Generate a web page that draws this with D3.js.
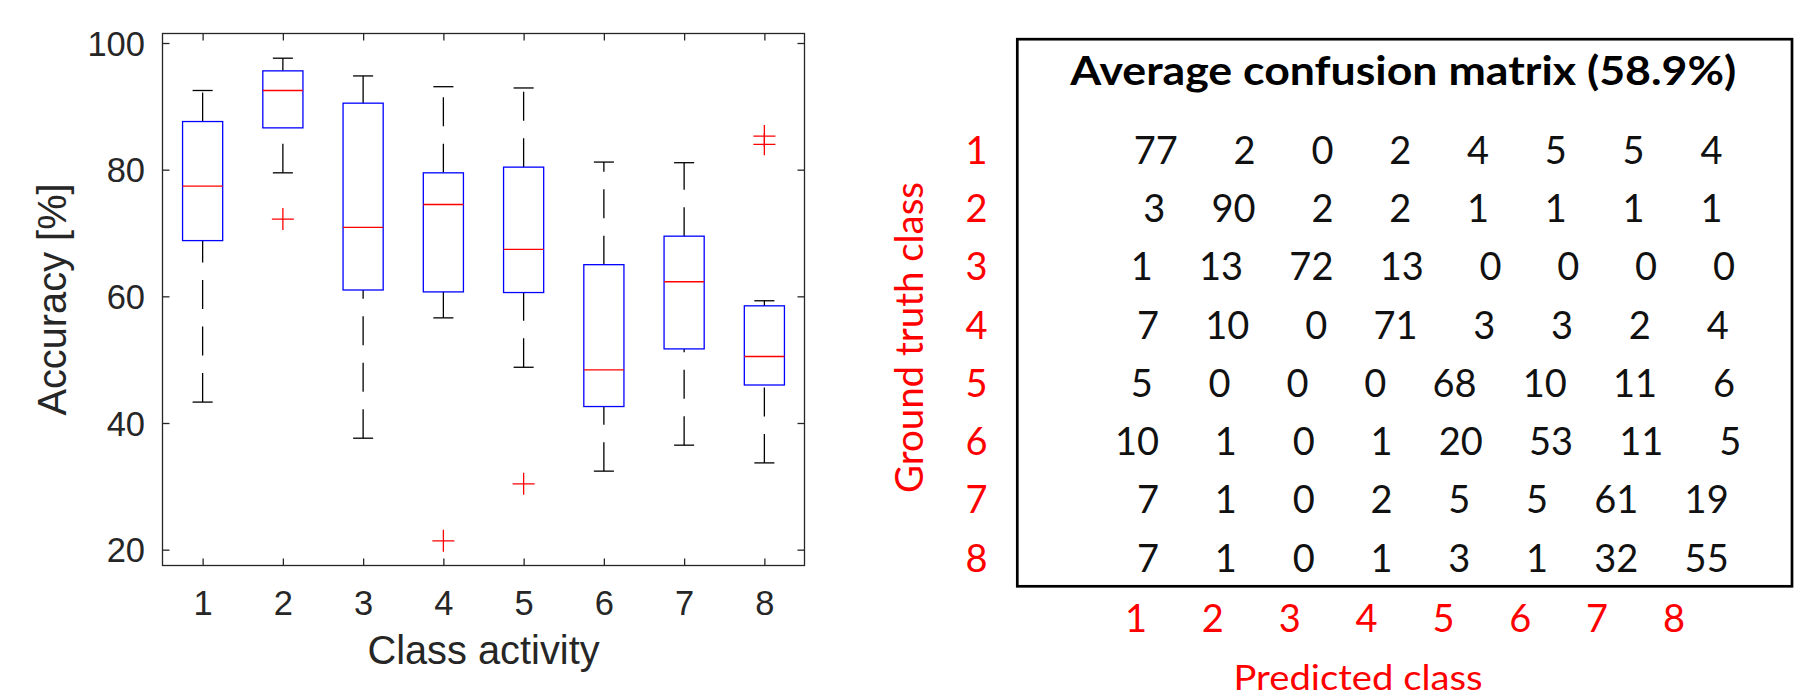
<!DOCTYPE html>
<html>
<head>
<meta charset="utf-8">
<script src="https://d3js.org/d3.v7.min.js"></script>
<style>
body { margin: 0; background: #fff; }
svg { display: block; }
</style>
</head>
<body>
<script>
// box plot values (accuracy in %)
var classes = [1, 2, 3, 4, 5, 6, 7, 8];
var whiskerHigh = [92.5, 97.6, 94.8, 93.1, 92.9, 81.2, 81.1, 59.3];
var q3 = [87.6, 95.6, 90.5, 79.5, 80.4, 65.0, 69.5, 58.5];
var medians = [77.4, 92.5, 70.9, 74.5, 67.4, 48.4, 62.3, 50.5];
var q1 = [68.8, 86.6, 61.0, 60.7, 60.6, 42.6, 51.7, 46.0];
var whiskerLow = [43.3, 79.5, 37.6, 56.6, 48.8, 32.4, 36.5, 33.7];
var outliers = [[], [72.2], [], [21.4], [30.4], [], [], [85.3, 84.0]];
var yTicks = [20, 40, 60, 80, 100];

// confusion matrix (rows = ground truth, columns = predicted)
var matrixTitle = "Average confusion matrix (58.9%)";
var confusion = [
    [77, 2, 0, 2, 4, 5, 5, 4],
    [3, 90, 2, 2, 1, 1, 1, 1],
    [1, 13, 72, 13, 0, 0, 0, 0],
    [7, 10, 0, 71, 3, 3, 2, 4],
    [5, 0, 0, 0, 68, 10, 11, 6],
    [10, 1, 0, 1, 20, 53, 11, 5],
    [7, 1, 0, 2, 5, 5, 61, 19],
    [7, 1, 0, 1, 3, 1, 32, 55]
];

var svg = d3.select("body").append("svg")
    .attr("width", 1801)
    .attr("height", 700);

drawBoxes();
drawMatrix();

function drawBoxes()
{
    var left = 162.5, right = 804.5, top = 33.5, bottom = 565.5;
    var ink = "#262626";

    var x = d3.scaleLinear().domain([0.5, 8.5]).range([left, right]);
    var y = d3.scaleLinear().domain([17.5, 101.5]).range([bottom, top]);

    var g = svg.append("g");

    // ticks point inwards on all four sides, like matlab
    function styleAxis(sel) {
        sel.select(".domain").remove();
        sel.selectAll("line").attr("stroke", ink).attr("stroke-width", 1.3);
        sel.selectAll("text")
            .attr("fill", ink)
            .attr("font-family", "'Liberation Sans', Arial, sans-serif")
            .attr("font-size", 34.5);
    }

    g.append("g")
        .attr("transform", "translate(0," + bottom + ")")
        .call(d3.axisBottom(x).tickValues(classes).tickSize(-7).tickPadding(25))
        .call(styleAxis);
    g.append("g")
        .attr("transform", "translate(0," + top + ")")
        .call(d3.axisTop(x).tickValues(classes).tickSize(-7).tickFormat(""))
        .call(styleAxis);
    g.append("g")
        .attr("transform", "translate(" + left + ",0)")
        .call(d3.axisLeft(y).tickValues(yTicks).tickSize(-7).tickPadding(17.5))
        .call(styleAxis)
        .selectAll("text").attr("dy", "0.35em");
    g.append("g")
        .attr("transform", "translate(" + right + ",0)")
        .call(d3.axisRight(y).tickValues(yTicks).tickSize(-7).tickFormat(""))
        .call(styleAxis);

    g.append("rect")
        .attr("x", left).attr("y", top)
        .attr("width", right - left).attr("height", bottom - top)
        .attr("fill", "none")
        .attr("stroke", ink)
        .attr("stroke-width", 1.3);

    g.append("text")
        .attr("x", (left + right) / 2)
        .attr("y", 664)
        .attr("text-anchor", "middle")
        .attr("fill", ink)
        .attr("font-family", "'Liberation Sans', Arial, sans-serif")
        .attr("font-size", 39.8)
        .text("Class activity");

    g.append("text")
        .attr("transform", "translate(66," + (top + bottom) / 2 + ")rotate(-90)")
        .attr("text-anchor", "middle")
        .attr("fill", ink)
        .attr("font-family", "'Liberation Sans', Arial, sans-serif")
        .attr("font-size", 39.8)
        .text("Accuracy [%]");

    var boxes = g.selectAll(".box")
        .data(classes)
        .join("g")
        .attr("class", "box");

    // whiskers are drawn from the low end up, so the dash pattern starts there
    boxes.append("line")
        .attr("x1", d => x(d)).attr("x2", d => x(d))
        .attr("y1", (d, i) => y(whiskerLow[i]))
        .attr("y2", (d, i) => y(q1[i]));
    boxes.append("line")
        .attr("x1", d => x(d)).attr("x2", d => x(d))
        .attr("y1", (d, i) => y(q3[i]))
        .attr("y2", (d, i) => y(whiskerHigh[i]));
    boxes.selectAll("line")
        .attr("stroke", "#000")
        .attr("stroke-width", 1.3)
        .attr("stroke-dasharray", "29,17.5");

    [whiskerLow, whiskerHigh].forEach(function(vals) {
        boxes.append("line")
            .attr("x1", d => x(d - 0.125)).attr("x2", d => x(d + 0.125))
            .attr("y1", (d, i) => y(vals[i]))
            .attr("y2", (d, i) => y(vals[i]))
            .attr("stroke", "#000")
            .attr("stroke-width", 1.3);
    });

    boxes.append("rect")
        .attr("x", d => x(d - 0.25))
        .attr("width", d => x(d + 0.25) - x(d - 0.25))
        .attr("y", (d, i) => y(q3[i]))
        .attr("height", (d, i) => y(q1[i]) - y(q3[i]))
        .attr("fill", "none")
        .attr("stroke", "#0000ff")
        .attr("stroke-width", 1.3);

    boxes.append("line")
        .attr("x1", d => x(d - 0.25)).attr("x2", d => x(d + 0.25))
        .attr("y1", (d, i) => y(medians[i]))
        .attr("y2", (d, i) => y(medians[i]))
        .attr("stroke", "#ff0000")
        .attr("stroke-width", 1.3);

    boxes.each(function(d, i) {
        d3.select(this).selectAll(".out")
            .data(outliers[i])
            .join("path")
            .attr("class", "out")
            .attr("transform", v => "translate(" + x(d) + "," + y(v) + ")")
            .attr("d", "M-11,0H11M0,-11V11")
            .attr("stroke", "#ff0000")
            .attr("stroke-width", 1.3)
            .attr("fill", "none");
    });
}

function drawMatrix()
{
    var font = "Lato, 'Open Sans', sans-serif";
    var g = svg.append("g").attr("font-family", font);

    g.append("rect")
        .attr("x", 1017.3).attr("y", 39.2)
        .attr("width", 774.7).attr("height", 547.1)
        .attr("fill", "none")
        .attr("stroke", "#000")
        .attr("stroke-width", 2.7);

    g.append("text")
        .attr("x", 1403.3)
        .attr("y", 85)
        .attr("text-anchor", "middle")
        .attr("font-weight", "bold")
        .attr("font-size", 39.5)
        .attr("textLength", 666)
        .attr("lengthAdjust", "spacingAndGlyphs")
        .attr("fill", "#000")
        .text(matrixTitle);

    var rowY = d3.scalePoint().domain(classes).range([164, 571.5]);
    var colX = d3.scalePoint().domain(classes).range([1136, 1674]);

    // every row is a centred string of right-aligned fields, so a row with
    // more two-digit numbers comes out a bit wider than the others
    var field = 77.8, extraDigit = 12.5, centre = 1405;

    confusion.forEach(function(row, r) {
        var widths = row.map(v => field + extraDigit * (String(v).length - 1));
        var total = d3.sum(widths);
        var ends = d3.cumsum(widths);

        g.selectAll(null)
            .data(row)
            .join("text")
            .attr("x", (v, c) => centre - total / 2 + ends[c])
            .attr("y", rowY(classes[r]))
            .attr("text-anchor", "end")
            .attr("font-size", 38)
            .attr("fill", "#111")
            .text(v => v);
    });

    g.selectAll(".rowlab")
        .data(classes)
        .join("text")
        .attr("class", "rowlab")
        .attr("x", 976.5)
        .attr("y", d => rowY(d))
        .attr("text-anchor", "middle")
        .attr("font-size", 38)
        .attr("fill", "#ff0000")
        .text(d => d);

    g.selectAll(".collab")
        .data(classes)
        .join("text")
        .attr("class", "collab")
        .attr("x", d => colX(d))
        .attr("y", 631.7)
        .attr("text-anchor", "middle")
        .attr("font-size", 38)
        .attr("fill", "#ff0000")
        .text(d => d);

    g.append("text")
        .attr("transform", "translate(923.3,337.5)rotate(-90)")
        .attr("text-anchor", "middle")
        .attr("font-size", 38)
        .attr("textLength", 311)
        .attr("lengthAdjust", "spacingAndGlyphs")
        .attr("fill", "#ff0000")
        .text("Ground truth class");

    g.append("text")
        .attr("x", 1358)
        .attr("y", 690)
        .attr("text-anchor", "middle")
        .attr("font-size", 34)
        .attr("textLength", 249)
        .attr("lengthAdjust", "spacingAndGlyphs")
        .attr("fill", "#ff0000")
        .text("Predicted class");
}
</script>
</body>
</html>
